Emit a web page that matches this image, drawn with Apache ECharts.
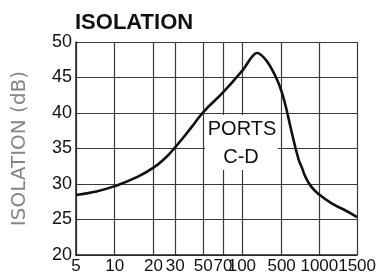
<!DOCTYPE html>
<html>
<head>
<meta charset="utf-8">
<script src="https://cdn.jsdelivr.net/npm/echarts@6/dist/echarts.min.js"></script>
<style>
  html, body { margin: 0; padding: 0; background: #fff; }
  #main { width: 379px; height: 277px; }
</style>
</head>
<body>
<div id="main"></div>
<script>
// x axis of the original is not a true log scale: ticks are unevenly spaced
const xTickFreq = [5, 10, 20, 30, 50, 70, 100, 500, 1000, 1500];
const xTickLabels = ['5', '10', '20', '30', '50', '70', '100', '500', '1000', '1500'];
const xTickPos = [0, 39, 78, 100, 128, 148, 167, 207, 245, 283];

const yTicks = [20, 25, 30, 35, 40, 45, 50];

// isolation curve, frequency (MHz) / dB
const freqs = [5, 7, 10, 15, 20, 25, 30, 40, 50, 70, 100, 115, 130, 160, 185, 220, 280, 334, 420, 500, 540, 600, 682, 730, 775, 865, 1000, 1137, 1319, 1500];
const isolation = [28.45, 28.9, 29.7, 31, 32.3, 33.7, 35.2, 37.9, 40.1, 42.9, 45.9, 46.55, 47.2, 48.15, 48.45, 48.15, 47.2, 46.2, 44.6, 43, 40.9, 37.4, 33.5, 32.2, 31, 29.6, 28.5, 27.3, 26.3, 25.35];

// piecewise log mapping from frequency to the chart's own axis units
function toAxis(f) {
  for (let i = 0; i < xTickFreq.length - 1; i++) {
    if (f <= xTickFreq[i + 1]) {
      let t = Math.log(f / xTickFreq[i]) / Math.log(xTickFreq[i + 1] / xTickFreq[i]);
      return xTickPos[i] + t * (xTickPos[i + 1] - xTickPos[i]);
    }
  }
  return xTickPos[xTickPos.length - 1];
}

const lineData = freqs.map((f, i) => [toAxis(f), isolation[i]]);
const numFont = '"Liberation Sans", Arial, sans-serif';

let chart = echarts.init(document.getElementById('main'));
chart.setOption({
  animation: false,
  backgroundColor: '#fff',
  grid: { left: 76, right: 20, top: 42, bottom: 22 },
  title: {
    text: 'ISOLATION',
    left: 70, top: 7,
    textStyle: { fontFamily: 'Liberation Sans, Arial', fontWeight: 'bold', fontSize: 22, color: '#111' }
  },
  xAxis: {
    type: 'value',
    min: 0,
    max: xTickPos[xTickPos.length - 1],
    axisLine: { lineStyle: { color: '#222', width: 1.5 } },
    axisTick: { show: false, customValues: xTickPos },
    splitLine: { show: true, lineStyle: { color: '#3a3a3a', width: 1.2 } },
    axisLabel: {
      customValues: xTickPos,
      showMinLabel: true,
      showMaxLabel: true,
      hideOverlap: false,
      margin: 3,
      color: '#111',
      fontSize: 17,
      fontFamily: numFont,
      formatter: v => {
        let i = xTickPos.indexOf(v);
        return i >= 0 ? xTickLabels[i] : '';
      }
    }
  },
  yAxis: {
    type: 'value',
    min: yTicks[0],
    max: yTicks[yTicks.length - 1],
    interval: 5,
    name: 'ISOLATION (dB)',
    nameLocation: 'middle',
    nameGap: 46,
    nameRotate: 90,
    nameTextStyle: { color: '#858585', fontSize: 20, fontFamily: 'DejaVu Sans, sans-serif' },
    axisLine: { show: true, lineStyle: { color: '#222', width: 1.5 } },
    axisTick: { show: false },
    splitLine: { show: true, lineStyle: { color: '#3a3a3a', width: 1.2 } },
    axisLabel: { margin: 4, color: '#111', fontSize: 18, fontFamily: numFont }
  },
  graphic: [
    {
      type: 'rect',
      shape: { x: 205, y: 115, width: 73, height: 55 },
      style: { fill: '#fff' },
      z: 10
    },
    {
      type: 'text',
      x: 242, y: 129,
      style: {
        text: 'PORTS', align: 'center', verticalAlign: 'middle',
        fill: '#111', fontSize: 20, fontFamily: 'Liberation Sans, Arial'
      },
      z: 11
    },
    {
      type: 'text',
      x: 241, y: 157,
      style: {
        text: 'C-D', align: 'center', verticalAlign: 'middle',
        fill: '#111', fontSize: 20, fontFamily: 'Liberation Sans, Arial'
      },
      z: 11
    }
  ],
  series: [{
    type: 'line',
    data: lineData,
    smooth: 0.5,
    symbol: 'none',
    lineStyle: { color: '#111', width: 2.6 },
    z: 3
  }]
});
</script>
</body>
</html>
